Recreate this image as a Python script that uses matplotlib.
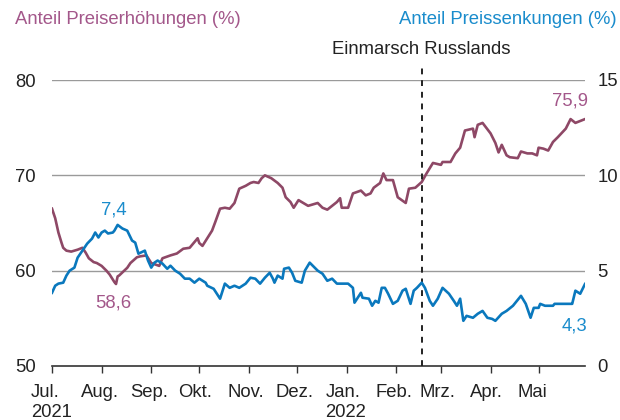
import numpy as np
import pandas as pd
import matplotlib
matplotlib.use("Agg")
import matplotlib.pyplot as plt
import matplotlib.transforms as mtransforms

plt.rcParams['font.family'] = ['Liberation Sans', 'DejaVu Sans']

# Tage seit 1. Juli 2021 und Werte
start = np.datetime64('2021-07-01')

up_days = [0, 2, 4, 6, 7, 9, 12, 16, 19, 21, 23, 26, 28, 31, 34, 36, 39, 40, 41, 42,
           47, 49, 53, 55, 59, 62, 67, 69, 74, 78, 82, 86, 91, 92, 94, 97, 100, 102,
           105, 108, 111, 114, 117, 121, 124, 126, 129, 131, 133, 137, 141, 144, 146,
           149, 151, 154, 157, 160, 166, 169, 172, 175, 178, 180, 181, 185, 188, 193,
           196, 199, 201, 205, 207, 209, 213, 216, 221, 223, 227, 231, 234, 238, 243,
           244, 249, 252, 255, 258, 263, 264, 266, 269, 274, 277, 279, 281, 284, 286,
           291, 293, 297, 300, 303, 304, 307, 310, 313, 316, 321, 324, 327, 330, 333]
up_vals = [66.5, 65.5, 64.0, 62.9, 62.4, 62.1, 62.0, 62.2, 62.4, 61.9, 61.3, 60.9, 60.8,
           60.5, 60.0, 59.6, 58.8, 58.6, 59.4, 59.5, 60.3, 60.8, 61.4, 61.5, 61.6, 60.8,
           60.5, 61.3, 61.6, 61.8, 62.3, 62.4, 63.4, 62.9, 62.6, 63.4, 64.2, 65.1, 66.5,
           66.6, 66.5, 67.1, 68.6, 68.9, 69.2, 69.3, 69.2, 69.7, 70.0, 69.7, 69.2, 68.7,
           67.7, 67.2, 66.6, 67.4, 67.1, 66.8, 67.1, 66.6, 66.4, 66.8, 67.2, 67.6, 66.6,
           66.6, 68.1, 68.4, 67.9, 68.1, 68.7, 69.2, 70.2, 69.5, 69.5, 67.7, 67.1, 68.6,
           68.7, 69.3, 70.2, 71.3, 71.1, 71.4, 71.4, 72.3, 72.9, 74.7, 74.9, 74.0, 75.3,
           75.5, 74.4, 73.4, 72.4, 73.2, 72.1, 71.9, 71.8, 72.5, 72.3, 72.3, 72.1, 72.9,
           72.8, 72.6, 73.5, 74.0, 74.9, 75.9, 75.5, 75.7, 75.9]

down_days = [0, 2, 4, 7, 9, 11, 14, 16, 19, 22, 25, 27, 29, 31, 33, 35, 38, 39, 41, 44,
             47, 50, 52, 54, 58, 60, 62, 64, 66, 69, 72, 74, 77, 80, 83, 86, 89, 92, 96,
             97, 101, 103, 105, 108, 111, 114, 117, 121, 124, 127, 130, 133, 136, 138,
             139, 141, 144, 145, 148, 150, 152, 156, 158, 161, 166, 169, 172, 175, 178,
             180, 185, 188, 189, 193, 194, 198, 200, 202, 204, 206, 208, 210, 213, 216,
             219, 221, 224, 226, 228, 231, 233, 236, 238, 241, 244, 248, 251, 253, 255,
             257, 259, 263, 266, 269, 272, 275, 277, 281, 284, 288, 293, 296, 299, 301,
             304, 305, 308, 313, 314, 324, 325, 327, 330, 333]
down_vals = [3.84, 4.21, 4.32, 4.37, 4.74, 5.0, 5.16, 5.68, 6.05, 6.42, 6.68, 7.0, 6.74,
             7.0, 7.1, 6.95, 7.0, 7.1, 7.4, 7.21, 7.1, 6.58, 6.47, 5.89, 6.05, 5.53, 5.16,
             5.42, 5.53, 5.37, 5.1, 5.26, 5.0, 4.84, 4.58, 4.58, 4.37, 4.58, 4.37, 4.21,
             4.05, 3.79, 3.53, 4.32, 4.1, 4.21, 4.1, 4.32, 4.63, 4.58, 4.32, 4.63, 4.89,
             4.58, 4.37, 4.74, 4.58, 5.1, 5.16, 4.89, 4.47, 4.37, 5.0, 5.42, 5.0, 4.84,
             4.47, 4.58, 4.32, 4.32, 4.32, 4.1, 3.32, 3.84, 3.58, 3.53, 3.16, 3.42, 3.32,
             4.1, 4.1, 3.79, 3.26, 3.42, 3.95, 4.05, 3.26, 3.95, 4.1, 4.37, 4.1, 3.42, 3.16,
             3.53, 4.1, 3.79, 3.42, 3.16, 3.53, 2.37, 2.63, 2.53, 2.74, 2.89, 2.53, 2.47,
             2.37, 2.74, 2.89, 3.16, 3.68, 3.26, 2.53, 3.05, 3.05, 3.26, 3.16, 3.16, 3.26,
             3.26, 3.26, 3.95, 3.79, 4.3]

months = ['Jul.\n2021', 'Aug.', 'Sep.', 'Okt.', 'Nov.', 'Dez.', 'Jan.\n2022',
          'Feb.', 'Mrz.', 'Apr.', 'Mai']
event_date = np.datetime64('2022-02-17')
end_date = start + 333

up_line = '#8e4866'
up_text = '#a3578a'
down_line = '#0a78bd'
down_text = '#1a8ccc'
fs = 13.3

up_dates = start + np.array(up_days)
down_dates = start + np.array(down_days)

fig = plt.figure(figsize=(6.2, 4.2), dpi=100)
ax = fig.add_axes([52 / 620, 1 - 366 / 420, 533 / 620, 286 / 420])
ax2 = ax.twinx()

ax.set_xlim(start, end_date)
ax.set_ylim(50, 80)
ax2.set_ylim(0, 15)

for v in [60, 70, 80]:
    ax.axhline(v, color='#9a9a9a', lw=1.0, zorder=0)

ax.plot(up_dates, up_vals, color=up_line, lw=1.9, zorder=3)
ax2.plot(down_dates, down_vals, color=down_line, lw=1.9, zorder=3)

# Einmarsch Russlands
ax.plot([event_date, event_date], [50, 81.6], color='#222222', lw=1.4,
        ls=(0, (3, 3)), clip_on=False, zorder=4)
ax.text(event_date, 82.3, 'Einmarsch Russlands', ha='center', va='bottom',
        fontsize=fs, color='#222222')

for a in (ax, ax2):
    for s in a.spines.values():
        s.set_visible(False)
ax.spines['bottom'].set_visible(True)
ax.spines['bottom'].set_color('#333333')
ax.spines['bottom'].set_linewidth(1.2)

ax.set_yticks([50, 60, 70, 80])
ax.tick_params(axis='y', length=0, pad=11.5, labelsize=fs, labelcolor='#222222')
ax2.set_yticks([0, 5, 10, 15])
ax2.tick_params(axis='y', length=0, pad=9, labelsize=fs, labelcolor='#222222')

ticks = pd.date_range('2021-07-01', '2022-05-01', freq='MS')
ax.set_xticks(ticks)
ax.set_xticklabels(months, ha='left', multialignment='left')
ax.tick_params(axis='x', length=5, width=1.0, color='#333333', pad=8,
               labelsize=fs, labelcolor='#222222')
shift = mtransforms.ScaledTranslation(-21 / 100, 0, fig.dpi_scale_trans)
for lab in ax.get_xticklabels():
    lab.set_transform(lab.get_transform() + shift)

ax.annotate('7,4', xy=(start + 41, 7.4), xycoords=ax2.transData, xytext=(-4, 15),
            textcoords='offset pixels', ha='center', va='center', fontsize=fs,
            color=down_text)
ax.annotate('58,6', xy=(start + 40, 58.6), xytext=(-3, -19), textcoords='offset pixels',
            ha='center', va='center', fontsize=fs, color=up_text)
ax.annotate('75,9', xy=(end_date, 75.9), xytext=(-15, 18), textcoords='offset pixels',
            ha='center', va='center', fontsize=fs, color=up_text)
ax.annotate('4,3', xy=(end_date, 4.3), xycoords=ax2.transData, xytext=(-10, -42),
            textcoords='offset pixels', ha='center', va='center', fontsize=fs,
            color=down_text)

fig.text(15 / 620, 1 - 20 / 420, 'Anteil Preiserhöhungen (%)', ha='left', va='center',
         fontsize=fs, color=up_text)
fig.text(617 / 620, 1 - 20 / 420, 'Anteil Preissenkungen (%)', ha='right', va='center',
         fontsize=fs, color=down_text)

fig.savefig('out.png', dpi=100)
